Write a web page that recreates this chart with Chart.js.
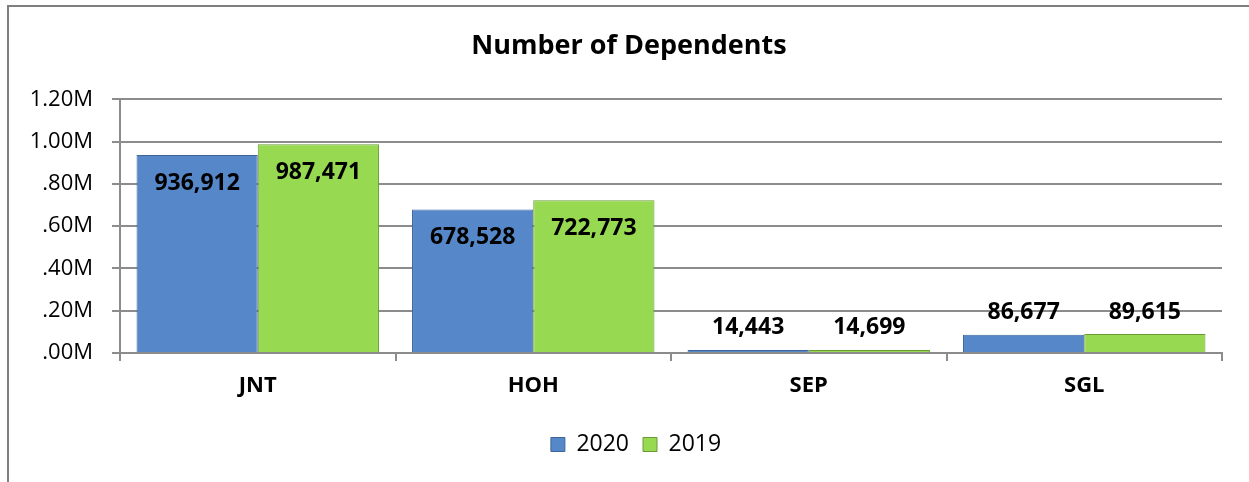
<!DOCTYPE html>
<html>
<head>
<meta charset="utf-8">
<script src="https://cdn.jsdelivr.net/npm/chart.js@4"></script>
<style>
    html, body { margin: 0; padding: 0; background: #fff; }
    #wrap { width: 1249px; height: 482px; }
</style>
</head>
<body>
<div id="wrap"><canvas id="depChart" width="1249" height="482"></canvas></div>
<script>
// chart data
const categories = ['JNT', 'HOH', 'SEP', 'SGL'];
const values2020 = [936912, 678528, 14443, 86677];
const values2019 = [987471, 722773, 14699, 89615];
const yTickLabels = ['.00M', '.20M', '.40M', '.60M', '.80M', '1.00M', '1.20M'];

const FONT = '"Open Sans", "DejaVu Sans", sans-serif';
const GRID = '#8c8c8c';

// outer frame (left + top border of the chart object)
const framePlugin = {
    id: 'frame',
    afterLayout(chart) {
        // title and legend are centred on the whole frame, not the plot
        const t = chart.titleBlock;
        if (t) { t.left += 13; t.right += 13; }
        const l = chart.legend;
        if (l) { l.left += 20; l.right += 20; }
    },
    beforeDraw(chart) {
        const ctx = chart.ctx;
        ctx.save();
        ctx.strokeStyle = '#7f7f7f';
        ctx.lineWidth = 2;
        ctx.beginPath();
        ctx.moveTo(8, chart.height);
        ctx.lineTo(8, 6);
        ctx.lineTo(chart.width, 6);
        ctx.stroke();
        ctx.restore();
    },
};

// value labels: inside top for tall bars, above for short ones
const valueLabels = {
    id: 'valueLabels',
    afterDatasetsDraw(chart) {
        const ctx = chart.ctx;
        ctx.save();
        ctx.font = 'bold 23px ' + FONT;
        ctx.fillStyle = '#000';
        ctx.textAlign = 'center';
        ctx.textBaseline = 'middle';
        chart.data.datasets.forEach((ds, di) => {
            chart.getDatasetMeta(di).data.forEach((bar, i) => {
                const h = bar.base - bar.y;
                const y = h > 60 ? bar.y + 28 : bar.y - 22;
                ctx.fillText(ds.data[i].toLocaleString('en-US'), bar.x, y);
            });
        });
        ctx.restore();
    },
};

const ctx = document.getElementById('depChart').getContext('2d');
new Chart(ctx, {
    type: 'bar',
    data: {
        labels: categories,
        datasets: [
            {
                label: '2020',
                data: values2020,
                backgroundColor: '#5688c9',
                borderColor: '#3d659a',
                borderWidth: 1,
                categoryPercentage: 0.88,
                barPercentage: 1,
            },
            {
                label: '2019',
                data: values2019,
                backgroundColor: '#98d952',
                borderColor: '#6a9a34',
                borderWidth: 1,
                categoryPercentage: 0.88,
                barPercentage: 1,
            },
        ],
    },
    options: {
        responsive: false,
        animation: false,
        layout: { padding: { left: 10, right: 27, top: 0, bottom: 16 } },
        plugins: {
            title: {
                display: true,
                text: 'Number of Dependents',
                color: '#000',
                font: { family: FONT, size: 27, weight: 'bold' },
                padding: { top: 30, bottom: 37 },
            },
            legend: {
                position: 'bottom',
                labels: {
                    color: '#000',
                    font: { family: FONT, size: 23 },
                    boxWidth: 14,
                    boxHeight: 14,
                    padding: 14,
                },
            },
            tooltip: { enabled: false },
        },
        scales: {
            x: {
                grid: {
                    offset: true,
                    drawOnChartArea: false,
                    drawTicks: true,
                    tickLength: 8,
                    color: GRID,
                    lineWidth: 2,
                },
                border: { display: true, color: GRID, width: 2 },
                ticks: {
                    color: '#000',
                    font: { family: FONT, size: 22, weight: 'bold' },
                    padding: 12,
                },
                afterFit: scale => { scale.height = 66; },
            },
            y: {
                min: 0,
                max: 1200000,
                grid: {
                    color: GRID,
                    lineWidth: 2,
                    drawTicks: true,
                    tickLength: 8,
                },
                border: { display: true, color: GRID, width: 2 },
                ticks: {
                    stepSize: 200000,
                    color: '#000',
                    font: { family: FONT, size: 22 },
                    padding: 19,
                    callback: val => yTickLabels[Math.round(val / 200000)],
                },
                afterFit: scale => { scale.width = 110; },
            },
        },
    },
    plugins: [framePlugin, valueLabels],
});
</script>
</body>
</html>
